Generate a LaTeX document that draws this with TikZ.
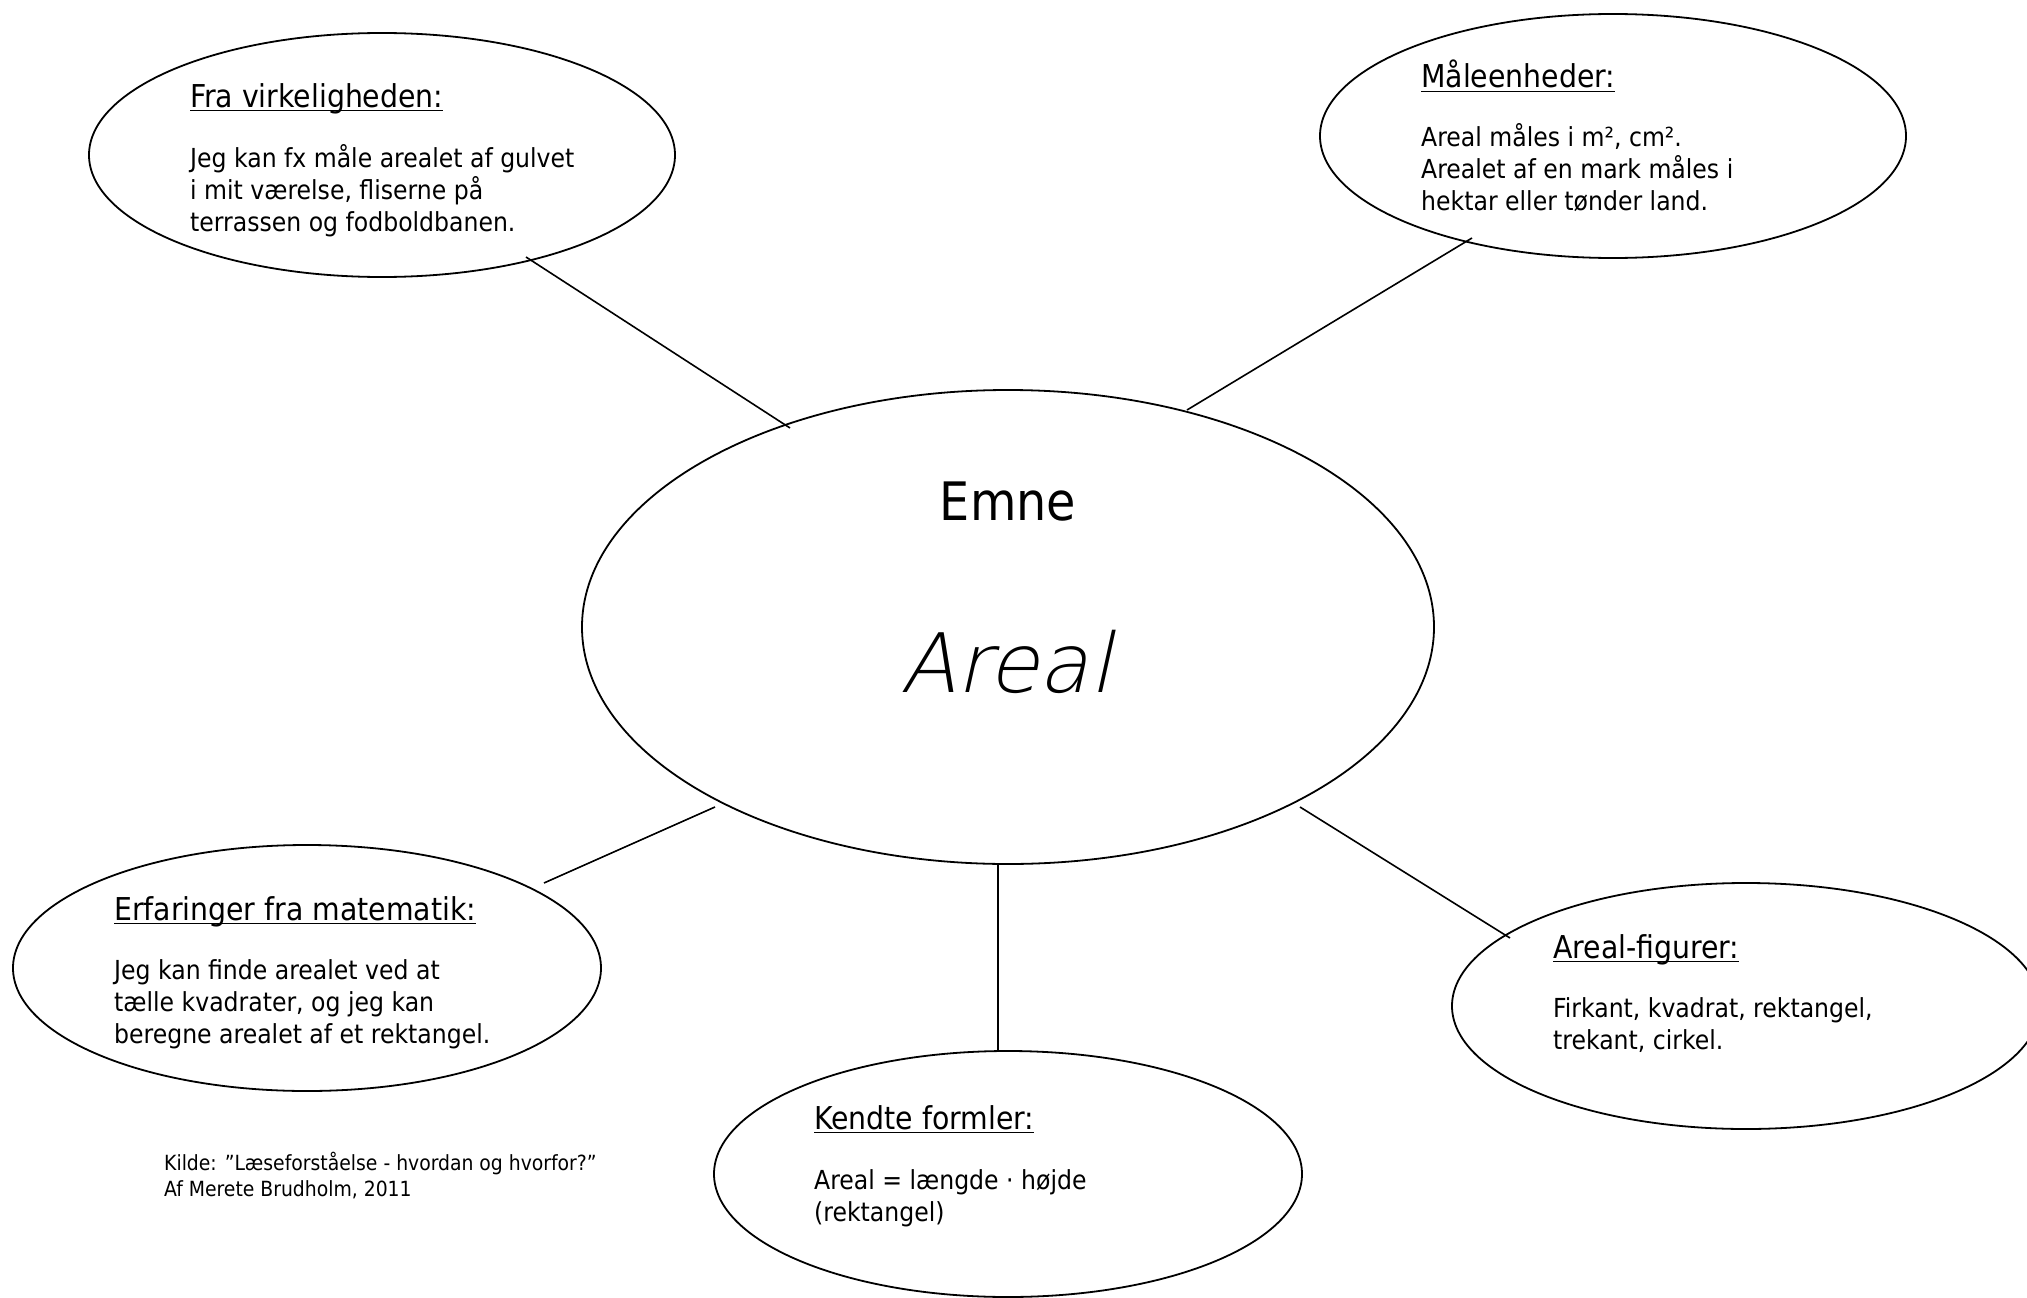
\documentclass[tikz,border=0pt]{standalone}
\usepackage{fontspec}
\setmainfont{DejaVu Sans Condensed}
\newfontfamily\handfont[FakeSlant=0.22]{DejaVu Sans ExtraLight}
\usetikzlibrary{shapes.geometric}
\newcommand\headul[1]{\setbox0\hbox{#1}\rlap{\rule[-0.14em]{\wd0}{0.055em}}\box0}
\tikzset{
  bubble/.style={draw, ellipse, line width=1.8pt, inner sep=0pt},
  link/.style={line width=1.6pt},
  head/.style={anchor=base west, inner sep=0pt, font=\fontsize{31.5}{36}\selectfont},
  body/.style={anchor=base west, inner sep=0pt, align=left, font=\fontsize{26.2}{32}\selectfont},
}
\begin{document}
\begin{tikzpicture}[x=1pt,y=-1pt]
\useasboundingbox (0,0) rectangle (2027,1298);
% ellipses
\node[bubble, minimum width=586pt, minimum height=244pt] (tl) at (382,155) {};
\node[bubble, minimum width=586pt, minimum height=244pt] (tr) at (1613,136) {};
\node[bubble, minimum width=852pt, minimum height=474pt] (c) at (1008,627) {};
\node[bubble, minimum width=588pt, minimum height=246pt] (bl) at (307,968) {};
\node[bubble, minimum width=588pt, minimum height=246pt] (bc) at (1008,1174) {};
\node[bubble, minimum width=588pt, minimum height=246pt] (r) at (1746,1006) {};
% connector end points
\coordinate (tla) at (526,257); \coordinate (tlb) at (790,428);
\coordinate (tra) at (1472,238); \coordinate (trb) at (1187,410);
\coordinate (bla) at (715,807); \coordinate (blb) at (544,883);
\coordinate (bca) at (998,864); \coordinate (bcb) at (998,1051);
\coordinate (ra) at (1300,807); \coordinate (rb) at (1510,938);
\draw[link] (tla) -- (tlb);
\draw[link] (tra) -- (trb);
\draw[link] (bla) -- (blb);
\draw[link] (bca) -- (bcb);
\draw[link] (ra) -- (rb);
% centre texts
\node[anchor=base, inner sep=0pt, font=\fontsize{53}{60}\selectfont] (emne) at (1008,520) {Emne};
\node[anchor=base, inner sep=0pt, font=\handfont\fontsize{82}{90}\selectfont] (areal) at (1006,692) {Areal};
% top left (body anchored at baseline of its last line)
\node[head] (tlh) at (190,107) {\headul{Fra virkeligheden:}};
\node[body] (tlt) at (190,231) {Jeg kan fx måle arealet af gulvet\\i mit værelse, fliserne på\\terrassen og fodboldbanen.};
% top right
\node[head] (trh) at (1421,88) {\headul{Måleenheder:}};
\node[body] (trt) at (1421,210) {Areal måles i m², cm².\\Arealet af en mark måles i\\hektar eller tønder land.};
% bottom left
\node[head] (blh) at (114,920) {\headul{Erfaringer fra matematik:}};
\node[body] (blt) at (114,1043) {Jeg kan finde arealet ved at\\tælle kvadrater, og jeg kan\\beregne arealet af et rektangel.};
% bottom centre
\node[head] (bch) at (814,1129) {\headul{Kendte formler:}};
\node[body] (bct) at (814,1221) {Areal = længde · højde\\(rektangel)};
% right
\node[head] (rh) at (1553,958) {\headul{Areal-figurer:}};
\node[body] (rt) at (1553,1049) {Firkant, kvadrat, rektangel,\\trekant, cirkel.};
% source
\node[anchor=base west, inner sep=0pt, align=left, font=\fontsize{20.9}{26}\selectfont] (src) at (164,1196) {Kilde: ”Læseforståelse - hvordan og hvorfor?”\\Af Merete Brudholm, 2011};
\end{tikzpicture}
\end{document}
